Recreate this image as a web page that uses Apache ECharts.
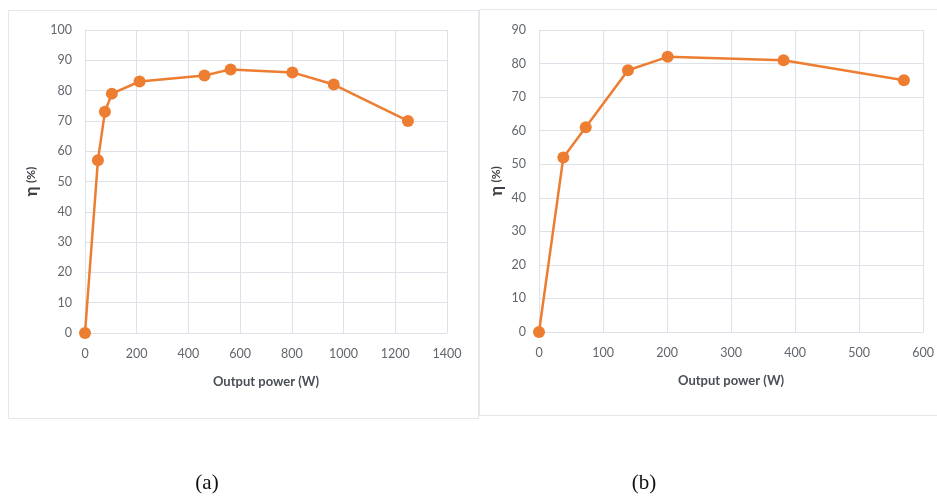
<!DOCTYPE html>
<html>
<head>
<meta charset="utf-8">
<script src="https://cdn.jsdelivr.net/npm/echarts@6/dist/echarts.min.js"></script>
<style>
html,body{margin:0;padding:0;background:#fff;}
#c{width:937px;height:497px;}
</style>
</head>
<body>
<div id="c"></div>
<script>
// Panel (a)
const powerA = [0, 50, 77, 104, 211, 462, 563, 802, 962, 1249];
const etaA   = [0, 57, 73, 79, 83, 85, 87, 86, 82, 70];
// Panel (b)
const powerB = [0, 38, 73, 139, 201, 382, 570];
const etaB   = [0, 52, 61, 78, 82, 81, 75];
const xNameText = 'Output power (W)';
const panelLabels = ['(a)', '(b)'];

const orange = '#ED7D31';
const gridColor = '#dde2e8';
const tickColor = '#62666d';
const fontFam = 'Lato, "Open Sans", sans-serif';

function xAxisCfg(idx, max, interval) {
  return {
    type: 'value', gridIndex: idx, min: 0, max: max, interval: interval,
    name: xNameText, nameLocation: 'middle', nameGap: 42,
    nameTextStyle: {color: '#4a4f57', fontSize: 13, fontWeight: 'bold', fontFamily: fontFam},
    axisLine: {show: true, lineStyle: {color: gridColor}},
    axisTick: {show: false},
    axisLabel: {color: tickColor, fontSize: 12.5, margin: 14, fontFamily: fontFam, formatter: v => String(v)},
    splitLine: {show: true, lineStyle: {color: gridColor, width: 1}}
  };
}
function yAxisCfg(idx, max, gap) {
  return {
    type: 'value', gridIndex: idx, min: 0, max: max, interval: 10,
    name: '{e|η} {p|(%)}', nameLocation: 'middle', nameGap: gap,
    nameTextStyle: {rich: {
      e: {fontSize: 17, fontWeight: 'bold', color: '#3c4048', fontFamily: fontFam},
      p: {fontSize: 12, fontWeight: 'bold', color: '#3c4048', fontFamily: fontFam}
    }},
    axisLine: {show: false},
    axisTick: {show: false},
    axisLabel: {color: tickColor, fontSize: 12.5, margin: 13, fontFamily: fontFam},
    splitLine: {show: true, lineStyle: {color: gridColor, width: 1}}
  };
}
function zip(xs, ys) { return xs.map((x, i) => [x, ys[i]]); }

const chart = echarts.init(document.getElementById('c'));
chart.setOption({
  backgroundColor: '#fff',
  animation: false,
  grid: [
    {left: 85, width: 362, top: 30, height: 303},
    {left: 539, width: 386, top: 30, height: 302}
  ],
  xAxis: [xAxisCfg(0, 1400, 200), xAxisCfg(1, 600, 100)],
  yAxis: [yAxisCfg(0, 100, 45), yAxisCfg(1, 90, 34)],
  series: [
    {type: 'line', xAxisIndex: 0, yAxisIndex: 0, data: zip(powerA, etaA),
     symbol: 'circle', symbolSize: 12, lineStyle: {color: orange, width: 2.5},
     itemStyle: {color: orange}},
    {type: 'line', xAxisIndex: 1, yAxisIndex: 1, data: zip(powerB, etaB),
     symbol: 'circle', symbolSize: 12, lineStyle: {color: orange, width: 2.5},
     itemStyle: {color: orange}}
  ],
  graphic: [
    {type: 'rect', shape: {x: 8.5, y: 10.5, width: 470, height: 408}, style: {fill: 'none', stroke: '#e3e6ea', lineWidth: 1}, z: -1},
    {type: 'rect', shape: {x: 479.5, y: 9.5, width: 470, height: 406}, style: {fill: 'none', stroke: '#e3e6ea', lineWidth: 1}, z: -1},
    {type: 'text', x: 207, y: 483, style: {text: panelLabels[0], font: '21px "Liberation Serif", "DejaVu Serif", serif', fill: '#111', textAlign: 'center', textVerticalAlign: 'middle'}},
    {type: 'text', x: 644, y: 483, style: {text: panelLabels[1], font: '21px "Liberation Serif", "DejaVu Serif", serif', fill: '#111', textAlign: 'center', textVerticalAlign: 'middle'}}
  ]
});
</script>
</body>
</html>
